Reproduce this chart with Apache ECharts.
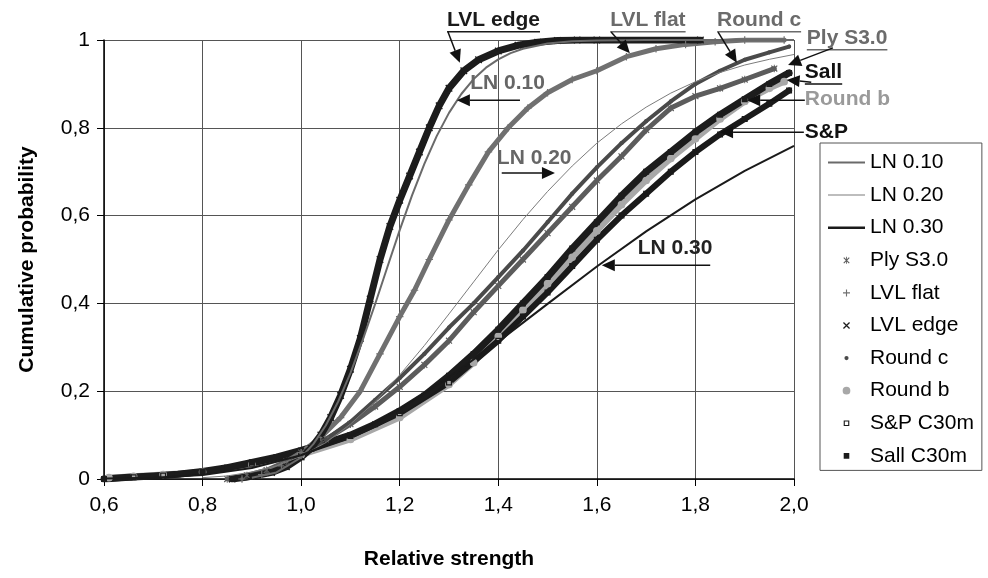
<!DOCTYPE html>
<html>
<head>
<meta charset="utf-8">
<script src="https://cdn.jsdelivr.net/npm/echarts@6/dist/echarts.min.js"></script>
<style>
  html, body { margin: 0; padding: 0; background: #ffffff; }
  #chart { width: 988px; height: 578px; }
</style>
</head>
<body>
<div id="chart"></div>
<script>
// ---- Cumulative probability data: [relative strength, probability] ----
const lnSigma010 = [[0.90,0.003],[0.95,0.015],[1.00,0.049],[1.025,0.080],[1.05,0.122],[1.075,0.176],[1.10,0.241],[1.125,0.317],[1.15,0.398],[1.175,0.483],[1.20,0.567],[1.225,0.646],[1.25,0.718],[1.275,0.781],[1.30,0.834],[1.325,0.877],[1.35,0.911],[1.375,0.937],[1.40,0.956],[1.425,0.970],[1.45,0.980],[1.50,0.992],[1.55,0.997],[1.60,0.999],[1.70,1.0],[2.00,1.0]];
const lnSigma020 = [[0.80,0.003],[0.85,0.007],[0.90,0.016],[0.95,0.030],[1.00,0.052],[1.05,0.083],[1.10,0.125],[1.15,0.176],[1.20,0.237],[1.25,0.304],[1.30,0.376],[1.35,0.449],[1.40,0.522],[1.45,0.591],[1.50,0.655],[1.55,0.713],[1.60,0.765],[1.65,0.809],[1.70,0.847],[1.75,0.879],[1.80,0.905],[1.85,0.926],[1.90,0.943],[1.95,0.956],[2.00,0.967]];
const lnSigma030 = [[0.60,0.001],[0.70,0.003],[0.80,0.009],[0.90,0.025],[1.00,0.054],[1.10,0.099],[1.20,0.159],[1.30,0.232],[1.40,0.313],[1.50,0.399],[1.60,0.484],[1.70,0.564],[1.80,0.637],[1.90,0.702],[2.00,0.759]];

const plyS30 = [[0.85,0.0],[0.89,0.008],[0.93,0.02],[0.97,0.04],[1.00,0.06],[1.05,0.09],[1.10,0.125],[1.15,0.165],[1.20,0.21],[1.25,0.26],[1.30,0.315],[1.35,0.38],[1.40,0.44],[1.45,0.50],[1.50,0.56],[1.55,0.62],[1.60,0.68],[1.65,0.735],[1.70,0.795],[1.75,0.845],[1.80,0.872],[1.85,0.89],[1.90,0.91],[1.96,0.935]];
const lvlFlat = [[0.88,0.0],[0.92,0.01],[0.96,0.03],[1.00,0.06],[1.04,0.095],[1.08,0.14],[1.12,0.20],[1.16,0.285],[1.20,0.37],[1.23,0.43],[1.26,0.50],[1.30,0.59],[1.34,0.67],[1.38,0.745],[1.42,0.80],[1.46,0.845],[1.50,0.88],[1.55,0.91],[1.60,0.93],[1.66,0.962],[1.72,0.98],[1.78,0.99],[1.84,0.996],[1.90,1.0],[1.98,1.0]];
const lvlEdge = [[0.86,0.0],[0.90,0.006],[0.94,0.015],[0.97,0.028],[1.00,0.05],[1.02,0.07],[1.04,0.10],[1.06,0.14],[1.08,0.19],[1.10,0.25],[1.12,0.32],[1.14,0.41],[1.16,0.50],[1.18,0.575],[1.20,0.635],[1.22,0.69],[1.24,0.745],[1.26,0.80],[1.28,0.85],[1.30,0.89],[1.33,0.93],[1.36,0.955],[1.40,0.975],[1.44,0.988],[1.48,0.995],[1.52,0.999],[1.56,1.0],[1.60,1.0],[1.81,1.0]];
const roundC = [[0.88,0.0],[0.93,0.012],[0.97,0.03],[1.00,0.055],[1.05,0.09],[1.10,0.13],[1.15,0.18],[1.20,0.23],[1.25,0.285],[1.30,0.345],[1.35,0.40],[1.40,0.46],[1.45,0.52],[1.50,0.585],[1.55,0.65],[1.60,0.71],[1.65,0.765],[1.70,0.815],[1.75,0.86],[1.80,0.90],[1.85,0.93],[1.90,0.955],[1.95,0.972],[1.99,0.985]];
const roundB = [[0.61,0.003],[0.66,0.006],[0.72,0.01],[0.80,0.016],[0.90,0.033],[1.00,0.055],[1.10,0.09],[1.20,0.14],[1.30,0.215],[1.35,0.265],[1.40,0.325],[1.45,0.385],[1.50,0.445],[1.55,0.505],[1.60,0.565],[1.65,0.625],[1.70,0.68],[1.75,0.73],[1.80,0.775],[1.85,0.82],[1.90,0.86],[1.95,0.89],[1.98,0.905]];
const spC30m = [[0.60,0.0],[0.66,0.004],[0.72,0.008],[0.80,0.016],[0.90,0.035],[1.00,0.06],[1.10,0.098],[1.20,0.15],[1.30,0.22],[1.40,0.315],[1.45,0.37],[1.50,0.425],[1.55,0.485],[1.60,0.545],[1.65,0.60],[1.70,0.65],[1.75,0.70],[1.80,0.745],[1.85,0.785],[1.90,0.82],[1.95,0.855],[1.99,0.885]];
const sallC30m = [[0.60,0.0],[0.65,0.004],[0.70,0.007],[0.75,0.011],[0.80,0.017],[0.85,0.026],[0.90,0.038],[0.95,0.05],[1.00,0.065],[1.05,0.082],[1.10,0.10],[1.15,0.125],[1.20,0.155],[1.25,0.19],[1.30,0.235],[1.35,0.285],[1.40,0.34],[1.45,0.40],[1.50,0.46],[1.55,0.525],[1.60,0.585],[1.65,0.645],[1.70,0.70],[1.75,0.745],[1.80,0.79],[1.85,0.83],[1.90,0.865],[1.95,0.90],[1.99,0.925]];

const xTicks = [0.6, 0.8, 1.0, 1.2, 1.4, 1.6, 1.8, 2.0];
const yTicks = [0, 0.2, 0.4, 0.6, 0.8, 1];

// ---- Marker shapes (20x20 box, corner anchors keep the box size) ----
const BOX = 'M0 0 L0.01 0 Z M20 20 L19.99 20 Z ';
const SYM_X = 'path://' + BOX + 'M5 6.3 L6.3 5 L15 13.7 L13.7 15 Z M13.7 5 L15 6.3 L6.3 15 L5 13.7 Z';
const SYM_ASTER = 'path://' + BOX + 'M5.5 6.6 L6.6 5.5 L14.5 13.4 L13.4 14.5 Z M13.4 5.5 L14.5 6.6 L6.6 14.5 L5.5 13.4 Z M9.4 5 H10.6 V15 H9.4 Z';
const SYM_PLUS = 'path://' + BOX + 'M9.2 5 H10.8 V9.2 H15 V10.8 H10.8 V15 H9.2 V10.8 H5 V9.2 H9.2 Z';
const SYM_DOT = 'path://' + BOX + 'M7 10 A3 3 0 1 1 13 10 A3 3 0 1 1 7 10 Z';
const SYM_BIGDOT = 'path://' + BOX + 'M4.5 10 A5.5 5.5 0 1 1 15.5 10 A5.5 5.5 0 1 1 4.5 10 Z';
const SYM_OPENSQ = 'path://' + BOX + 'M6 6 H14 V14 H6 Z M7.6 7.6 V12.4 H12.4 V7.6 Z';
const SYM_SQ = 'path://' + BOX + 'M6 6 H14 V14 H6 Z';
// legend strokes for the fitted lognormal lines
const ICON_LINE_MED = 'path://M0 0 H37 V2 H0 Z';
const ICON_LINE_THIN = 'path://M0 0 H37 V1 H0 Z';
const ICON_LINE_BOLD = 'path://M0 0 H37 V2.6 H0 Z';

const FONT = "'Liberation Sans', Arial, Helvetica, sans-serif";

function sampleSeries(name, data, color, symbol, symbolSize, width) {
  return {
    name, type: 'line', data, smooth: false,
    symbol, symbolSize, showSymbol: true, showAllSymbol: true,
    lineStyle: { color, width, cap: 'round', join: 'round' },
    itemStyle: { color, borderWidth: 0 },
    emphasis: { disabled: true },
    z: 2
  };
}
function lnSeries(name, data, color, width) {
  return {
    name, type: 'line', data, smooth: false,
    symbol: 'none',
    lineStyle: { color, width, join: 'round' },
    itemStyle: { color, borderWidth: 0 },
    emphasis: { disabled: true },
    z: 4
  };
}

const chart = echarts.init(document.getElementById('chart'), null, { renderer: 'canvas' });

const fmtComma = v => (v === 0 ? '0' : v === 1 ? '1' : v.toFixed(1).replace('.', ','));

chart.setOption({
  animation: false,
  backgroundColor: '#ffffff',
  textStyle: { fontFamily: FONT },
  grid: { left: 104, right: 194, top: 40, bottom: 99, containLabel: false },
  xAxis: {
    type: 'value', min: xTicks[0], max: xTicks[xTicks.length - 1], interval: 0.2,
    name: 'Relative strength', nameLocation: 'middle', nameGap: 70,
    nameTextStyle: { fontSize: 21, fontWeight: 'bold', color: '#000', fontFamily: FONT },
    axisLine: { show: true, onZero: false, lineStyle: { color: '#000', width: 1.5 } },
    axisTick: { show: true, length: 7, lineStyle: { color: '#000' } },
    axisLabel: { fontSize: 21, color: '#000', margin: 16, fontFamily: FONT, formatter: v => v.toFixed(1).replace('.', ',') },
    splitLine: { show: true, lineStyle: { color: '#555', width: 1 } }
  },
  yAxis: {
    type: 'value', min: yTicks[0], max: yTicks[yTicks.length - 1], interval: 0.2,
    name: 'Cumulative probability', nameLocation: 'middle', nameGap: 66,
    nameTextStyle: { fontSize: 21, fontWeight: 'bold', color: '#000', fontFamily: FONT },
    axisLine: { show: true, lineStyle: { color: '#000', width: 1.5 } },
    axisTick: { show: true, length: 7, lineStyle: { color: '#000' } },
    axisLabel: { fontSize: 21, color: '#000', margin: 14, fontFamily: FONT, formatter: fmtComma },
    splitLine: { show: true, lineStyle: { color: '#555', width: 1 } }
  },
  legend: {
    orient: 'vertical', left: 820, top: 143,
    padding: [9, 8, 4, 8], itemGap: 11.6, itemWidth: 37, itemHeight: 14,
    backgroundColor: '#ffffff', borderColor: '#555', borderWidth: 1, borderRadius: 0,
    selectedMode: false,
    itemStyle: { borderWidth: 0 },
    textStyle: { fontSize: 21, color: '#000', fontFamily: FONT },
    data: [
      { name: 'LN 0.10', icon: ICON_LINE_MED }, { name: 'LN 0.20', icon: ICON_LINE_THIN }, { name: 'LN 0.30', icon: ICON_LINE_BOLD },
      { name: 'Ply S3.0', icon: SYM_ASTER }, { name: 'LVL flat', icon: SYM_PLUS },
      { name: 'LVL edge', icon: SYM_X }, { name: 'Round c', icon: SYM_DOT },
      { name: 'Round b', icon: SYM_BIGDOT }, { name: 'S&P C30m', icon: SYM_OPENSQ },
      { name: 'Sall C30m', icon: SYM_SQ }
    ]
  },
  series: [
    sampleSeries('Round b', roundB, '#a8a8a8', SYM_BIGDOT, 14, 6),
    sampleSeries('S&P C30m', spC30m, '#1a1a1a', SYM_OPENSQ, 15, 6),
    sampleSeries('Sall C30m', sallC30m, '#1c1c1c', SYM_SQ, 15, 7),
    sampleSeries('Ply S3.0', plyS30, '#5c5c5c', SYM_ASTER, 15, 5),
    sampleSeries('Round c', roundC, '#4a4a4a', SYM_DOT, 14, 4),
    sampleSeries('LVL flat', lvlFlat, '#707070', SYM_PLUS, 15, 5),
    sampleSeries('LVL edge', lvlEdge, '#1c1c1c', SYM_X, 15, 7),
    lnSeries('LN 0.10', lnSigma010, '#6a6a6a', 2),
    lnSeries('LN 0.20', lnSigma020, '#7c7c7c', 1),
    lnSeries('LN 0.30', lnSigma030, '#1a1a1a', 2)
  ]
});

// ---- Callout labels with leader arrows, anchored in data coordinates ----
const callouts = [
  { text: 'LVL edge', color: '#1a1a1a', at: [1.296, 1.046], underline: true,  from: [1.298, 1.018], to: [1.322, 0.948] },
  { text: 'LVL flat', color: '#6b6b6b', at: [1.627, 1.046], underline: true,  from: [1.629, 1.018], to: [1.667, 0.970] },
  { text: 'Round c',  color: '#6b6b6b', at: [1.844, 1.046], underline: true,  from: [1.846, 1.018], to: [1.884, 0.948] },
  { text: 'Ply S3.0', color: '#6b6b6b', at: [2.026, 1.005], underline: true,  from: [2.079, 0.982], to: [1.988, 0.943] },
  { text: 'Sall',     color: '#111111', at: [2.022, 0.927], underline: true,  from: [2.035, 0.904], to: [1.985, 0.909] },
  { text: 'Round b',  color: '#9a9a9a', at: [2.022, 0.866], underline: false, from: [2.022, 0.863], to: [1.905, 0.863] },
  { text: 'S&P',      color: '#111111', at: [2.022, 0.790], underline: false, from: [2.020, 0.790], to: [1.850, 0.790] },
  { text: 'LN 0.10',  color: '#666666', at: [1.343, 0.902], underline: false, from: [1.444, 0.863], to: [1.316, 0.863] },
  { text: 'LN 0.20',  color: '#666666', at: [1.397, 0.731], underline: false, from: [1.407, 0.697], to: [1.515, 0.697] },
  { text: 'LN 0.30',  color: '#222222', at: [1.683, 0.526], underline: false, from: [1.830, 0.487], to: [1.610, 0.487] }
];

const measureCtx = document.createElement('canvas').getContext('2d');
const LABEL_FONT = 'bold 21px ' + FONT;

function buildCallouts() {
  measureCtx.font = LABEL_FONT;
  const els = [];
  callouts.forEach(c => {
    const p = chart.convertToPixel({ gridIndex: 0 }, c.at);
    const w = measureCtx.measureText(c.text).width;
    els.push({
      type: 'text', silent: true, z: 20,
      style: { text: c.text, x: p[0], y: p[1], font: LABEL_FONT, fill: c.color, align: 'left', verticalAlign: 'middle' }
    });
    if (c.underline) {
      els.push({
        type: 'line', silent: true, z: 20,
        shape: { x1: p[0], y1: p[1] + 12, x2: p[0] + w, y2: p[1] + 12 },
        style: { stroke: c.color, lineWidth: 1.5 }
      });
    }
    const a = chart.convertToPixel({ gridIndex: 0 }, c.from);
    const b = chart.convertToPixel({ gridIndex: 0 }, c.to);
    const dx = b[0] - a[0], dy = b[1] - a[1];
    const len = Math.hypot(dx, dy) || 1;
    const ux = dx / len, uy = dy / len;
    const headLen = 13, headHalf = 6;
    const bx = b[0] - ux * headLen, by = b[1] - uy * headLen;
    els.push({
      type: 'line', silent: true, z: 21,
      shape: { x1: a[0], y1: a[1], x2: bx, y2: by },
      style: { stroke: '#111', lineWidth: 1.5 }
    });
    els.push({
      type: 'polygon', silent: true, z: 21,
      shape: { points: [[b[0], b[1]], [bx - uy * headHalf, by + ux * headHalf], [bx + uy * headHalf, by - ux * headHalf]] },
      style: { fill: '#111' }
    });
  });
  chart.setOption({ graphic: { elements: els } });
}
buildCallouts();
</script>
</body>
</html>
